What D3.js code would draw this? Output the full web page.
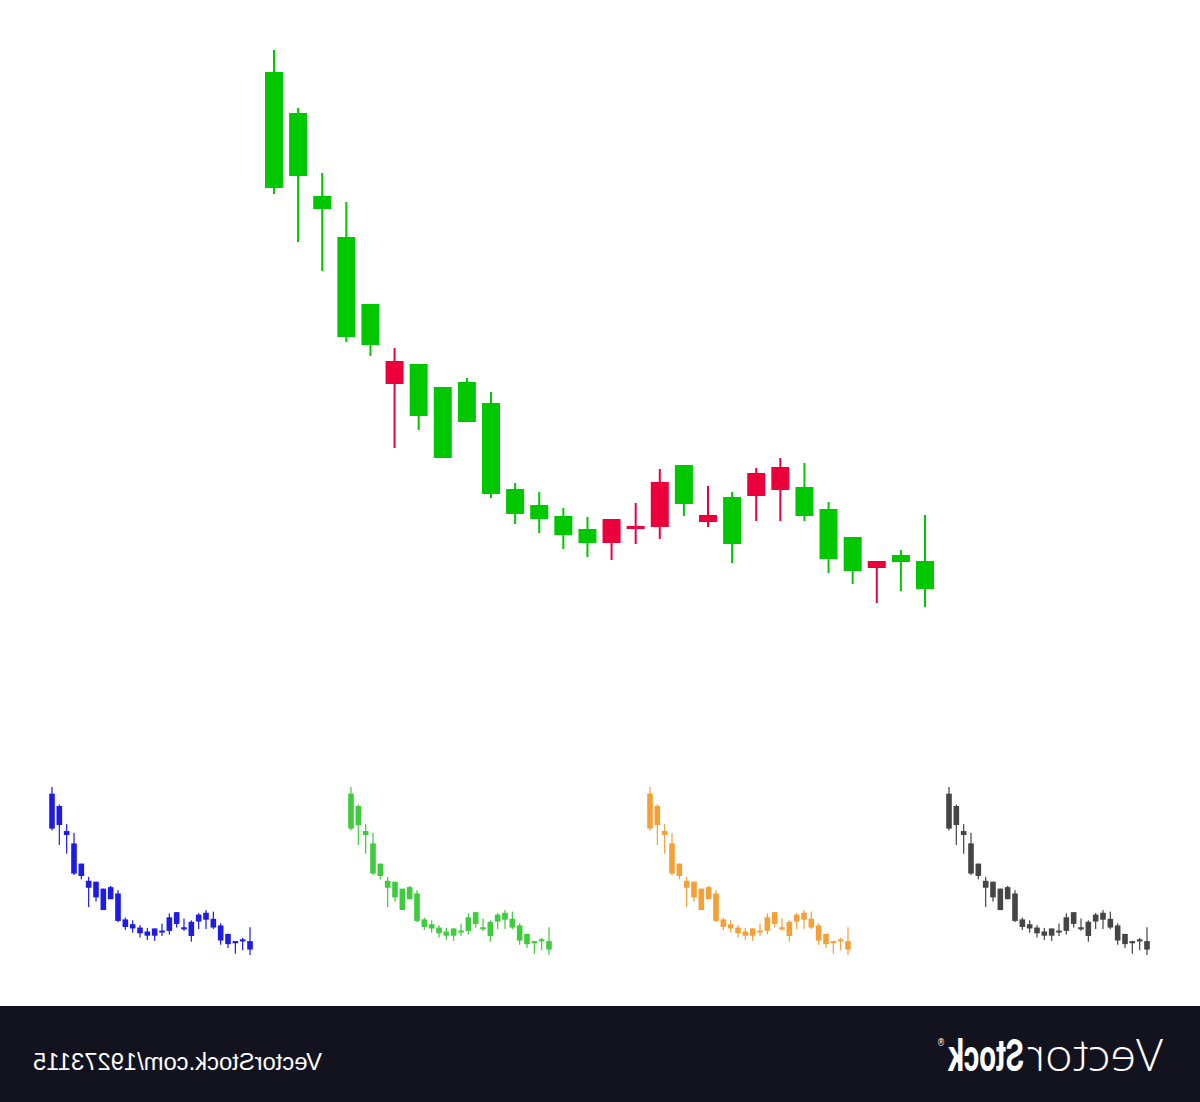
<!DOCTYPE html>
<html>
<head>
<meta charset="utf-8">
<script src="https://cdn.jsdelivr.net/npm/d3@7"></script>
<style>
  html, body { margin: 0; padding: 0; background: #ffffff; }
  svg { display: block; }
</style>
</head>
<body>
<svg id="chart" width="1200" height="1102"></svg>
<script>
// ---- data ----
const periods = d3.range(1, 29);
const highs  = [65.0,59.2,52.7,49.8,39.6,35.2,33.6,31.3,32.2,30.8,21.7,20.8,19.2,18.3,18.1,19.7,23.1,23.5,21.4,20.8,23.2,24.2,23.7,19.8,16.3,13.9,15.0,18.5];
const lows   = [50.6,45.8,42.9,35.8,34.4,25.2,27.0,24.2,27.8,20.2,17.6,16.7,15.1,14.3,14.0,15.6,16.1,18.4,17.3,13.7,17.9,17.9,17.9,12.7,11.6,9.7,10.9,9.3];
const opens  = [62.8,58.7,50.4,46.3,39.6,31.6,33.6,31.3,31.8,29.7,21.1,19.5,18.4,17.1,15.7,17.1,17.3,23.5,17.8,20.3,20.4,21.0,21.3,19.1,16.3,13.2,14.5,13.9];
const closes = [51.2,52.4,49.1,36.3,35.5,33.9,28.4,24.2,27.8,20.6,18.6,18.1,16.5,15.7,18.1,17.4,21.8,19.6,18.5,15.6,22.7,23.3,18.4,14.1,12.9,13.9,13.8,11.1];

const mainColors = { fall: "#00c800", rise: "#ec003c" };
const smallColors = ["#1c1ce4", "#3ccc3c", "#f4a036", "#454545"];

const candles = periods.map((p, i) => ({
  p, high: highs[i], low: lows[i], open: opens[i], close: closes[i]
}));

const svg = d3.select("#chart");

function drawCandles(g, x, y, bodyW, wickW, colorFn) {
  const c = g.selectAll("g.c").data(candles).join("g").attr("class", "c");
  c.append("rect")
    .attr("x", d => x(d.p) - wickW / 2)
    .attr("y", d => y(d.high))
    .attr("width", wickW)
    .attr("height", d => y(d.low) - y(d.high))
    .attr("fill", colorFn);
  c.append("rect")
    .attr("x", d => x(d.p) - bodyW / 2)
    .attr("y", d => y(Math.max(d.open, d.close)))
    .attr("width", bodyW)
    .attr("height", d => Math.max(2, Math.abs(y(d.open) - y(d.close))))
    .attr("fill", colorFn);
}

const yExtent = [d3.min(lows), d3.max(highs)];

// main chart
const xMain = d3.scaleLinear().domain([1, 28]).range([274, 925]);
const yMain = d3.scaleLinear().domain(yExtent).range([607, 50]);
drawCandles(svg.append("g"), xMain, yMain, 18, 2,
  d => d.open > d.close ? mainColors.fall : mainColors.rise);

// small copies
const smallStarts = [52, 351, 650, 949];
smallColors.forEach((col, k) => {
  const xs = d3.scaleLinear().domain([1, 28]).range([smallStarts[k], smallStarts[k] + 198]);
  const ys = d3.scaleLinear().domain(yExtent).range([955, 787]);
  drawCandles(svg.append("g"), xs, ys, 5.6, 1.2, () => col);
});

// footer (mirrored, as in the reference)
svg.append("rect").attr("x", 0).attr("y", 1006).attr("width", 1200).attr("height", 96).attr("fill", "#13131f");

// mirrored text, horizontally scaled to the target width (right edge at xRight)
function mirrored(str, xRight, y, width, family, size, weight) {
  const t = svg.append("text")
    .attr("font-family", family)
    .attr("font-size", size)
    .attr("font-weight", weight)
    .attr("fill", "#ffffff")
    .text(str);
  const natural = t.node().getComputedTextLength() || width;
  t.attr("transform", `translate(${xRight},${y}) scale(${-width / natural},1)`);
  return t;
}

mirrored("VectorStock.com/19273115", 322, 1070, 289, "Liberation Sans, Arial, sans-serif", 24, 400);
mirrored("Vector", 1163, 1071, 136, "Open Sans, Roboto, sans-serif", 44, 300);
mirrored("Stock", 1024, 1071, 76, "Roboto, Open Sans, sans-serif", 44, 700);
mirrored("®", 945, 1046, 8, "DejaVu Sans, sans-serif", 10, 400);
</script>
</body>
</html>
